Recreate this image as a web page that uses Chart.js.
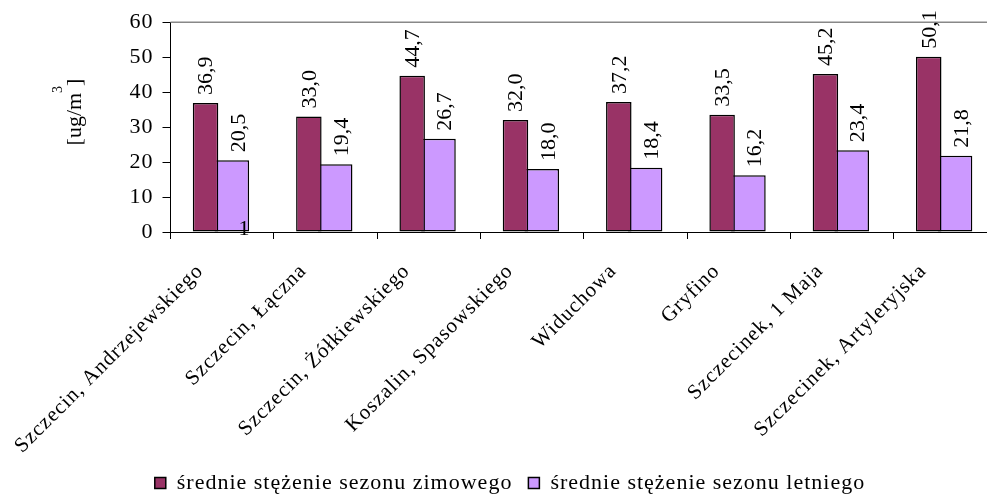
<!DOCTYPE html>
<html>
<head>
<meta charset="utf-8">
<script src="https://cdn.jsdelivr.net/npm/chart.js@4.4.0/dist/chart.umd.min.js"></script>
<style>
  html, body { margin: 0; padding: 0; background: #fff; overflow: hidden; }
  #chart_area { position: relative; width: 1000px; height: 499px; }
</style>
</head>
<body>
<div id="chart_area"><canvas id="myChart"></canvas></div>
<script>
const categories = [
    "Szczecin, Andrzejewskiego",
    "Szczecin, Łączna",
    "Szczecin, Żółkiewskiego",
    "Koszalin, Spasowskiego",
    "Widuchowa",
    "Gryfino",
    "Szczecinek, 1 Maja",
    "Szczecinek, Artyleryjska"
];
const winter_values = [36.9, 33.0, 44.7, 32.0, 37.2, 33.5, 45.2, 50.1];
const summer_values = [20.5, 19.4, 26.7, 18.0, 18.4, 16.2, 23.4, 21.8];
const series_names = ["średnie stężenie sezonu zimowego", "średnie stężenie sezonu letniego"];
const y_ticks = [0, 10, 20, 30, 40, 50, 60];
const y_title = ["[ug/m", "3", "]"];
const stray_text = "1";

const FONT = '"Liberation Serif", "Times New Roman", serif';

// small x shift of the rotated value labels, per dataset
const label_shift = [1, 7];

// the old excel picture has a bit wider text, fake it with letter spacing
const spacing = {
    id: 'spacing',
    beforeLayout(chart) { chart.ctx.letterSpacing = '1px'; },
    beforeDraw(chart) { chart.ctx.letterSpacing = '1px'; }
};

const valueLabels = {
    id: 'valueLabels',
    afterDatasetsDraw(chart) {
        const ctx = chart.ctx;
        const area = chart.chartArea;
        ctx.save();
        ctx.letterSpacing = '0px';
        // grey frame line on top of the plot
        ctx.strokeStyle = '#888';
        ctx.lineWidth = 1.5;
        ctx.beginPath();
        ctx.moveTo(area.left, area.top);
        ctx.lineTo(area.right, area.top);
        ctx.stroke();

        ctx.font = '22px ' + FONT;
        ctx.fillStyle = '#000';
        ctx.textAlign = 'left';
        ctx.textBaseline = 'middle';
        chart.data.datasets.forEach((ds, i) => {
            const meta = chart.getDatasetMeta(i);
            meta.data.forEach((bar, j) => {
                ctx.save();
                ctx.translate(bar.x + label_shift[i], bar.y - 8);
                ctx.rotate(-Math.PI / 2);
                ctx.fillText(ds.data[j].toFixed(1).replace('.', ','), 0, 0);
                ctx.restore();
            });
        });

        // stray "1" sitting on the axis under the first group
        ctx.textAlign = 'center';
        ctx.textBaseline = 'alphabetic';
        ctx.fillText(stray_text, 244, 235);

        // y axis title with superscript
        ctx.save();
        ctx.translate(81, 112);
        ctx.rotate(-Math.PI / 2);
        ctx.textAlign = 'left';
        ctx.font = '22px ' + FONT;
        const w1 = ctx.measureText(y_title[0]).width;
        const w3 = ctx.measureText(y_title[2]).width;
        ctx.font = '14px ' + FONT;
        const w2 = ctx.measureText(y_title[1]).width;
        let x0 = -(w1 + w2 + w3) / 2;
        ctx.font = '22px ' + FONT;
        ctx.fillText(y_title[0], x0, 0);
        ctx.font = '14px ' + FONT;
        ctx.fillText(y_title[1], x0 + w1, -19);
        ctx.font = '22px ' + FONT;
        ctx.fillText(y_title[2], x0 + w1 + w2, 0);
        ctx.restore();

        ctx.restore();
    }
};

const ctx = document.getElementById('myChart').getContext('2d');
const myChart = new Chart(ctx, {
    type: 'bar',
    data: {
        labels: categories,
        datasets: [{
            label: series_names[0],
            data: winter_values,
            backgroundColor: '#993366',
            borderColor: '#000',
            borderWidth: 1.5,
            borderSkipped: false,
            categoryPercentage: 0.643,
            barPercentage: 0.768
        }, {
            label: series_names[1],
            data: summer_values,
            backgroundColor: '#CC99FF',
            borderColor: '#000',
            borderWidth: 1.5,
            borderSkipped: false,
            categoryPercentage: 0.374,
            barPercentage: 1.793
        }]
    },
    options: {
        responsive: true,
        maintainAspectRatio: false,
        animation: false,
        layout: { padding: { top: 22, left: 23, right: 3, bottom: -5 } },
        plugins: {
            tooltip: { enabled: false },
            legend: {
                position: 'bottom',
                labels: {
                    color: '#000',
                    font: { family: FONT, size: 22 },
                    boxWidth: 11,
                    boxHeight: 11,
                    padding: 16
                }
            }
        },
        scales: {
            x: {
                offset: true,
                grid: { offset: true, drawOnChartArea: false, tickLength: 7, color: '#000' },
                border: { color: '#000', width: 1 },
                ticks: {
                    color: '#000',
                    font: { family: FONT, size: 21 },
                    minRotation: 45,
                    maxRotation: 45,
                    autoSkip: false,
                    padding: 20,
                    labelOffset: -22
                },
                afterFit(scale) { scale.height = 224; }
            },
            y: {
                min: y_ticks[0],
                max: y_ticks[y_ticks.length - 1],
                ticks: {
                    stepSize: y_ticks[1] - y_ticks[0],
                    color: '#000',
                    font: { family: FONT, size: 22 },
                    padding: 9
                },
                grid: { drawOnChartArea: false, tickLength: 8, color: '#000' },
                border: { color: '#000', width: 1 },
                afterFit(scale) { scale.width = 147.5; }
            }
        }
    },
    plugins: [spacing, valueLabels]
});
</script>
</body>
</html>
